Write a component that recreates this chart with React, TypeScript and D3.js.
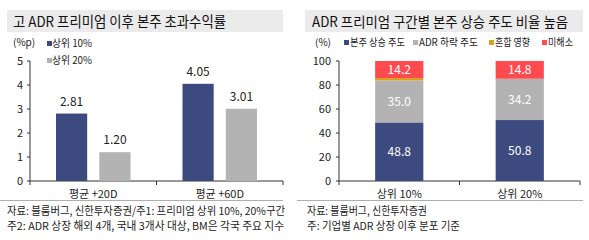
import React from "react";
import * as d3 from "d3";

const leftCategories = ["평균 +20D", "평균 +60D"];
const leftSeries = ["상위 10%", "상위 20%"];
const top10Values = [2.81, 4.05];
const top20Values = [1.2, 3.01];
const leftTicks = [0, 1, 2, 3, 4, 5];

const rightCategories = ["상위 10%", "상위 20%"];
const stackKeys = ["본주 상승 주도", "ADR 하락 주도", "혼합 영향", "미해소"];
const stockUp = [48.8, 50.8];
const adrDown = [35.0, 34.2];
const mixed = [2.0, 0.2];
const unresolved = [14.2, 14.8];
const rightTicks = [0, 20, 40, 60, 80, 100];

const BLUE = "#3D4A7F";
const GRAY = "#B3B3B3";
const ORANGE = "#D9A21B";
const RED = "#FF4B4F";
const FONT = "'Noto Sans CJK KR', 'Noto Sans', sans-serif";
const TXT = "#222";

export default function App() {
  // left chart
  const lx = d3.scaleBand().domain(leftCategories).range([30, 283]);
  const ly = d3.scaleLinear().domain([0, 5]).range([181, 61]);
  const inner = d3.scaleBand().domain(leftSeries).range([0, lx.bandwidth()]).paddingInner(0.28).paddingOuter(0.6);
  const leftData = [top10Values, top20Values];
  const leftColors = [BLUE, GRAY];

  // right chart
  const rx = d3.scaleBand().domain(rightCategories).range([339, 580]).paddingInner(0.6).paddingOuter(0.3);
  const ry = d3.scaleLinear().domain([0, 100]).range([181, 61]);
  const table = rightCategories.map((c, i) => ({
    cat: c,
    [stackKeys[0]]: stockUp[i],
    [stackKeys[1]]: adrDown[i],
    [stackKeys[2]]: mixed[i],
    [stackKeys[3]]: unresolved[i],
  }));
  const stacked = d3.stack<any>().keys(stackKeys)(table);
  const stackColors = [BLUE, GRAY, ORANGE, RED];
  const legendX = [344, 413, 489, 542];
  const legendW = [55, 59, 35, 25];

  return (
    <svg width={589} height={240} style={{ position: "absolute", left: 0, top: 0, fontFamily: FONT }}>
      <rect width={589} height={240} fill="#fff" />
      {/* titles */}
      <rect x={7} y={10} width={276} height={22} fill="#EBEBEB" />
      <text x={13} y={27} fontSize={14.5} fill="#111" textLength={213} lengthAdjust="spacingAndGlyphs">고 ADR 프리미엄 이후 본주 초과수익률</text>
      <rect x={305} y={10} width={278} height={22} fill="#EBEBEB" />
      <text x={312} y={27} fontSize={14} fill="#111" textLength={256} lengthAdjust="spacingAndGlyphs">ADR 프리미엄 구간별 본주 상승 주도 비율 높음</text>

      {/* left legend */}
      <text x={13} y={46} fontSize={10} fill={TXT}>(%p)</text>
      {leftSeries.map((s, i) => (
        <g key={s}>
          <rect x={47} y={41 + i * 17} width={5} height={5} fill={leftColors[i]} />
          <text x={52} y={47 + i * 17} fontSize={10} fill={TXT} textLength={40} lengthAdjust="spacingAndGlyphs">{s}</text>
        </g>
      ))}

      {/* left axes */}
      {leftTicks.map((t) => (
        <g key={t}>
          <text x={23} y={ly(t) + 4} fontSize={11} textAnchor="end" fill={TXT}>{t}</text>
          <line x1={27} x2={30} y1={ly(t)} y2={ly(t)} stroke="#333" />
        </g>
      ))}
      <line x1={30} x2={30} y1={61} y2={181} stroke="#333" />
      <line x1={30} x2={283} y1={181} y2={181} stroke="#333" />
      {[30, 156.5, 283].map((x) => (
        <line key={x} x1={x} x2={x} y1={181} y2={185} stroke="#333" />
      ))}
      {leftCategories.map((c, ci) => (
        <g key={c}>
          {leftData.map((vals, si) => {
            const x0 = (lx(c) as number) + (inner(leftSeries[si]) as number);
            const v = vals[ci];
            return (
              <g key={si}>
                <rect x={x0} y={ly(v)} width={inner.bandwidth()} height={ly(0) - ly(v)} fill={leftColors[si]} />
                <text x={x0 + inner.bandwidth() / 2} y={ly(v) - 8} fontSize={12} textAnchor="middle" fill={TXT}>
                  {v.toFixed(2)}
                </text>
              </g>
            );
          })}
          <text x={(lx(c) as number) + lx.bandwidth() / 2} y={198} fontSize={11} textAnchor="middle" fill={TXT}>{c}</text>
        </g>
      ))}

      {/* right legend */}
      <text x={315} y={46} fontSize={10} fill={TXT}>(%)</text>
      {stackKeys.map((k, i) => (
        <g key={k}>
          <rect x={legendX[i]} y={40} width={5} height={5} fill={stackColors[i]} />
          <text x={legendX[i] + 6} y={46} fontSize={10} fill={TXT} textLength={legendW[i]} lengthAdjust="spacingAndGlyphs">{k}</text>
        </g>
      ))}

      {/* right axes */}
      {rightTicks.map((t) => (
        <g key={t}>
          <text x={331} y={ry(t) + 4} fontSize={11} textAnchor="end" fill={TXT}>{t}</text>
          <line x1={336} x2={339} y1={ry(t)} y2={ry(t)} stroke="#333" />
        </g>
      ))}
      <line x1={339} x2={339} y1={61} y2={181} stroke="#333" />
      <line x1={339} x2={580} y1={181} y2={181} stroke="#333" />
      {[339, (339 + 580) / 2, 580].map((x, i) => (
        <line key={i} x1={x} x2={x} y1={181} y2={185} stroke="#333" />
      ))}
      {stacked.map((layer, li) => (
        <g key={layer.key}>
          {layer.map((d, i) => {
            const x0 = rx(rightCategories[i]) as number;
            const v = d[1] - d[0];
            return (
              <g key={i}>
                <rect x={x0} y={ry(d[1])} width={rx.bandwidth()} height={ry(d[0]) - ry(d[1])} fill={stackColors[li]} />
                {v > 5 && (
                  <text x={x0 + rx.bandwidth() / 2} y={(ry(d[0]) + ry(d[1])) / 2 + 4.5} fontSize={12} textAnchor="middle" fill="#fff">
                    {v.toFixed(1)}
                  </text>
                )}
              </g>
            );
          })}
        </g>
      ))}
      {rightCategories.map((c) => (
        <text key={c} x={(rx(c) as number) + rx.bandwidth() / 2} y={198} fontSize={11} textAnchor="middle" fill={TXT}>{c}</text>
      ))}

      {/* footers */}
      <line x1={0} x2={283} y1={200.5} y2={200.5} stroke="#999" strokeWidth={0.8} />
      <line x1={297} x2={583} y1={200.5} y2={200.5} stroke="#999" strokeWidth={0.8} />
      <text x={7} y={215} fontSize={11} fill={TXT} textLength={278} lengthAdjust="spacingAndGlyphs">자료: 블룸버그, 신한투자증권/주1: 프리미엄 상위 10%, 20%구간</text>
      <text x={7} y={230} fontSize={11} fill={TXT} textLength={277} lengthAdjust="spacingAndGlyphs">주2: ADR 상장 해외 4개, 국내 3개사 대상, BM은 각국 주요 지수</text>
      <text x={307} y={215} fontSize={11} fill={TXT} textLength={120} lengthAdjust="spacingAndGlyphs">자료: 블룸버그, 신한투자증권</text>
      <text x={307} y={230} fontSize={11} fill={TXT} textLength={153} lengthAdjust="spacingAndGlyphs">주: 기업별 ADR 상장 이후 분포 기준</text>
    </svg>
  );
}
